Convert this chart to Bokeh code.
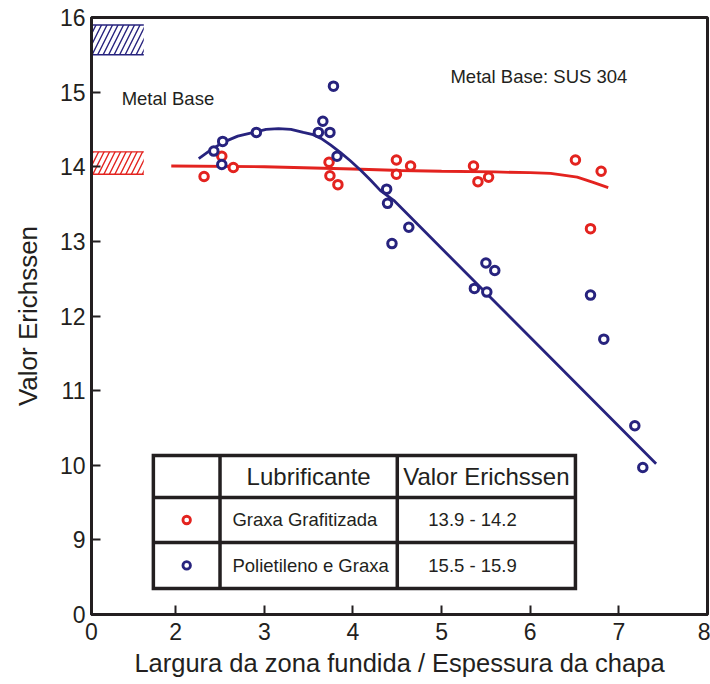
from bokeh.plotting import figure
from bokeh.models import Range1d, FixedTicker, Label
from bokeh.embed import file_html
from bokeh.resources import INLINE

# ---------------- data ----------------
red_x = [2.32, 2.52, 2.65, 3.73, 3.74, 3.83, 4.49, 4.49, 4.65, 5.36, 5.41, 5.53, 6.51, 6.80, 6.68]
red_y = [13.87, 14.14, 13.99, 14.06, 13.88, 13.76, 14.09, 13.90, 14.01, 14.01, 13.80, 13.86, 14.09, 13.94, 13.17]

blue_x = [2.43, 2.53, 2.52, 2.91, 3.61, 3.66, 3.74, 3.78, 3.82, 4.38, 4.39, 4.63, 4.44,
          5.50, 5.60, 5.37, 5.51, 6.68, 6.83, 7.18, 7.27]
blue_y = [14.21, 14.34, 14.03, 14.46, 14.46, 14.61, 14.46, 15.08, 14.14, 13.70, 13.51, 13.19, 12.97,
          12.71, 12.61, 12.37, 12.32, 12.28, 11.69, 10.53, 9.97]

red_fit_x = [1.95, 3.0, 4.0, 4.54, 5.0, 5.6, 6.0, 6.23, 6.53, 6.71, 6.88]
red_fit_y = [14.01, 14.00, 13.97, 13.95, 13.94, 13.93, 13.92, 13.91, 13.86, 13.79, 13.72]

blue_fit_x = [2.26, 2.40, 2.54, 2.70, 2.88, 3.02, 3.16, 3.30, 3.44, 3.55, 3.64, 3.75, 3.86, 3.97,
              4.09, 4.20, 4.31, 4.46, 7.42]
blue_fit_y = [14.11, 14.23, 14.33, 14.41, 14.46, 14.50, 14.51, 14.50, 14.46, 14.43, 14.38, 14.29, 14.19,
              14.08, 13.95, 13.82, 13.68, 13.55, 10.02]

lubricants = ["Graxa Grafitizada", "Polietileno e Graxa"]
range_low = [13.9, 15.5]
range_high = [14.2, 15.9]
range_labels = ["13.9 - 14.2", "15.5 - 15.9"]

x_ticks = [2, 3, 4, 5, 6, 7, 8]
y_ticks = [9, 10, 11, 12, 13, 14, 15, 16]

RED = "#E3231F"
BLUE = "#27237E"
INK = "#231F20"
FONT = "Liberation Sans"

X0 = 1.05   # start of x axis (shown as "0", broken axis)
Y0 = 8.0    # start of y axis (shown as "0", broken axis)

p = figure(frame_width=616, frame_height=597, min_border_left=91, min_border_right=3,
           min_border_top=17, min_border_bottom=68,
           x_range=Range1d(X0, 8.0), y_range=Range1d(Y0, 16.0),
           output_backend="svg", toolbar_location=None)

p.background_fill_color = "white"
p.border_fill_color = "white"
p.outline_line_color = INK
p.outline_line_width = 3
p.xgrid.grid_line_color = None
p.ygrid.grid_line_color = None

p.xaxis.ticker = FixedTicker(ticks=[X0] + x_ticks)
p.yaxis.ticker = FixedTicker(ticks=[Y0] + y_ticks)
p.xaxis.major_label_overrides = {X0: "0", **{t: str(t) for t in x_ticks}}
p.yaxis.major_label_overrides = {Y0: "0", **{t: str(t) for t in y_ticks}}

for ax in (p.xaxis, p.yaxis):
    ax.axis_line_color = INK
    ax.axis_line_width = 3
    ax.major_tick_in = 9
    ax.major_tick_out = 0
    ax.major_tick_line_width = 2
    ax.major_tick_line_color = INK
    ax.minor_tick_line_color = None
    ax.major_label_text_font = FONT
    ax.major_label_text_font_size = "23px"
    ax.major_label_text_color = INK
    ax.axis_label_text_font = FONT
    ax.axis_label_text_font_style = "normal"
    ax.axis_label_text_color = INK

p.xaxis.axis_label = "Largura da zona fundida / Espessura da chapa"
p.yaxis.axis_label = "Valor Erichssen"
p.xaxis.axis_label_text_font_size = "25.5px"
p.yaxis.axis_label_text_font_size = "26px"
p.xaxis.major_label_standoff = 8
p.yaxis.major_label_standoff = 6
p.xaxis.axis_label_standoff = 6
p.yaxis.axis_label_standoff = 14

# hatched metal-base ranges
hatch_colors = [RED, BLUE]
HATCH_RIGHT = 1.64
p.quad(left=[X0, X0], right=[HATCH_RIGHT, HATCH_RIGHT], bottom=range_low, top=range_high,
       fill_alpha=0, line_color=None, hatch_pattern="/", hatch_color=hatch_colors,
       hatch_scale=11, hatch_weight=1.4)
p.segment(x0=[X0] * 4, x1=[HATCH_RIGHT] * 4, y0=range_low + range_high, y1=range_low + range_high,
          line_color=hatch_colors + hatch_colors, line_width=1.4)

# fitted curves
p.line(red_fit_x, red_fit_y, line_color=RED, line_width=2.8)
p.line(blue_fit_x, blue_fit_y, line_color=BLUE, line_width=2.8)

# data points
p.scatter(red_x, red_y, marker="circle", size=8.5, fill_color="white", line_color=RED, line_width=3)
p.scatter(blue_x, blue_y, marker="circle", size=8.5, fill_color="white", line_color=BLUE, line_width=3)

# annotations
p.add_layout(Label(x=1.39, y=14.92, text="Metal Base", text_font=FONT, text_font_size="18.5px",
                   text_color=INK, text_baseline="middle"))
p.add_layout(Label(x=5.10, y=15.21, text="Metal Base: SUS 304", text_font=FONT, text_font_size="18.5px",
                   text_color=INK, text_baseline="middle"))

# legend table
col_edges = [1.748, 2.50, 4.50, 6.51]
row_edges = [10.131, 9.568, 8.965, 8.349]
p.quad(left=[col_edges[0]], right=[col_edges[-1]], top=[row_edges[0]], bottom=[row_edges[-1]],
       fill_color="white", line_color=INK, line_width=3.5, line_join="miter")
p.segment(x0=[col_edges[1], col_edges[2], col_edges[0], col_edges[0]],
          x1=[col_edges[1], col_edges[2], col_edges[-1], col_edges[-1]],
          y0=[row_edges[0], row_edges[0], row_edges[1], row_edges[2]],
          y1=[row_edges[-1], row_edges[-1], row_edges[1], row_edges[2]],
          line_color=INK, line_width=3.5)

header_y = (row_edges[0] + row_edges[1]) / 2
p.add_layout(Label(x=(col_edges[1] + col_edges[2]) / 2, y=header_y, text="Lubrificante",
                   text_font=FONT, text_font_size="24px", text_color=INK,
                   text_align="center", text_baseline="middle"))
p.add_layout(Label(x=(col_edges[2] + col_edges[3]) / 2, y=header_y, text="Valor Erichssen",
                   text_font=FONT, text_font_size="24px", text_color=INK,
                   text_align="center", text_baseline="middle"))

row_ys = [(row_edges[1] + row_edges[2]) / 2, (row_edges[2] + row_edges[3]) / 2]
marker_x = (col_edges[0] + col_edges[1]) / 2
p.scatter([marker_x, marker_x], row_ys, marker="circle", size=7.5, fill_color="white",
          line_color=hatch_colors, line_width=2.8)
for name, rl, yy in zip(lubricants, range_labels, row_ys):
    p.add_layout(Label(x=2.64, y=yy, text=name, text_font=FONT, text_font_size="18.5px",
                       text_color=INK, text_baseline="middle"))
    p.add_layout(Label(x=4.85, y=yy, text=rl, text_font=FONT, text_font_size="18.5px",
                       text_color=INK, text_baseline="middle"))

open("out.html", "w").write(file_html(p, INLINE))
